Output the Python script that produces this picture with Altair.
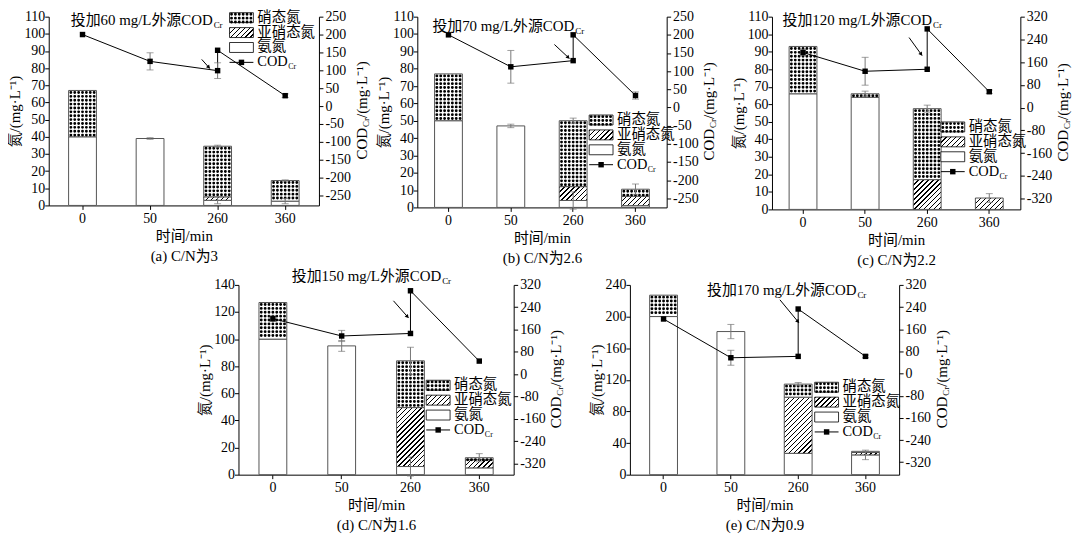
import math
import altair as alt
import pandas as pd

FONT = "Liberation Serif, Noto Sans CJK SC"
TIMES = ["0", "50", "260", "360"]
COD_T = ["0", "50", "260", "260", "360"]   # 260 appears twice: before / after dosing

# ---------------- data ----------------
# (a) C/N = 3
a_ammonia = [40, 39, 3, 2.5]
a_nitrite = [0, 0, 2, 0]
a_nitrate = [27, 0, 29.5, 12]
a_total_err = [0, 0.5, 0.6, 0.4]
a_ammonia_err = [0, 0, 2, 1.5]
a_cod = [200, 125, 99, 156, 29]
a_cod_err = [0, 24, 22, 0, 5]

# (b) C/N = 2.6
b_ammonia = [50, 47, 4, 1]
b_nitrite = [0, 0, 8, 5.5]
b_nitrate = [27, 0, 38, 4]
b_total_err = [0, 1, 1.5, 3]
b_ammonia_err = [0, 0, 5, 0]
b_cod = [200, 112, 129, 200, 33]
b_cod_err = [0, 45, 0, 0, 10]

# (c) C/N = 2.2
c_ammonia = [66, 64, 0, 0]
c_nitrite = [0, 0, 17, 6.5]
c_nitrate = [27, 2, 40.5, 0]
c_total_err = [0, 1.5, 2, 2.5]
c_ammonia_err = [0, 0, 0, 0]
c_cod = [194, 128, 135, 277, 56]
c_cod_err = [10, 49, 0, 0, 6]

# (d) C/N = 1.6
d_ammonia = [100, 95, 6, 5]
d_nitrite = [0, 0, 43.5, 6]
d_nitrate = [27, 0, 34.5, 1.5]
d_total_err = [0, 4, 10, 3]
d_ammonia_err = [0, 0, 7, 0]
d_cod = [199, 137, 146, 299, 47]
d_cod_err = [10, 20, 0, 0, 0]

# (e) C/N = 0.9
e_ammonia = [200, 181, 27, 25]
e_nitrite = [0, 0, 71, 3]
e_nitrate = [27, 0, 16.5, 1.5]
e_total_err = [0, 9, 2, 0]
e_ammonia_err = [0, 0, 0, 6]
e_cod = [197, 57, 62, 233, 62]
e_cod_err = [0, 27, 0, 0, 5]

captions = ["(a) C/N为3", "(b) C/N为2.6", "(c) C/N为2.2", "(d) C/N为1.6", "(e) C/N为0.9"]
doses = ["投加60 mg/L外源COD", "投加70 mg/L外源COD", "投加120 mg/L外源COD",
         "投加150 mg/L外源COD", "投加170 mg/L外源COD"]
legend_labels = ["硝态氮", "亚硝态氮", "氨氮", "COD"]
y_title = "氮/(mg·L⁻¹)"
x_title = "时间/min"

# ---------------- layout / style ----------------
PANELS = [
    dict(w=272, h=190, ymax=110, ystep=10, rdom=[-278, 250], rticks=list(range(-250, 251, 50)),
         leg=(182, 1), note=(165, 3), arrow=(154, 43, 162, 52)),
    dict(w=251, h=192, ymax=110, ystep=10, rdom=[-275, 250], rticks=list(range(-250, 251, 50)),
         leg=(173, 104), note=(158, 9), arrow=(138, 28, 153, 42)),
    dict(w=250, h=194, ymax=110, ystep=10, rdom=[-358, 320], rticks=list(range(-320, 321, 80)),
         leg=(170, 111), note=(161, 3), arrow=(138, 21, 151, 39)),
    dict(w=277, h=191, ymax=140, ystep=20, rdom=[-360, 320], rticks=list(range(-320, 321, 80)),
         leg=(189, 101), note=(204, -9), arrow=(156, 16, 171, 33)),
    dict(w=271, h=191, ymax=240, ystep=40, rdom=[-365, 320], rticks=list(range(-320, 321, 80)),
         leg=(186, 103), note=(228, 5), arrow=(151, 15, 170, 38)),
]
GRAY = "#555555"
ERR = "#777777"
BAR_W = 28
DOT_STEP = 3.9
DOT_D = 2.9
one = pd.DataFrame({"_": [0]})


def hatch(w, h, period=5.0, lw=1.3):
    L = w + h
    stops = []
    pos = 0.0
    while pos < L - 1e-9:
        a = pos / L
        b = min((pos + lw) / L, 1.0)
        c = min((pos + period) / L, 1.0)
        stops += [{"offset": a, "color": "#000000"}, {"offset": b, "color": "#000000"},
                  {"offset": b, "color": "#ffffff"}, {"offset": c, "color": "#ffffff"}]
        pos += period
    k = L / (w * w + h * h)
    return {"gradient": "linear", "x1": 0, "y1": 0, "x2": w * k, "y2": h * k, "stops": stops}


def txt(text, x, y, size=15, align="left", angle=0, baseline="middle"):
    return alt.Chart(one).mark_text(text=text, font=FONT, fontSize=size, align=align,
                                    baseline=baseline, angle=angle, color="black").encode(
        x=alt.value(x), y=alt.value(y))


def build(cfg, amm, nit2, nit3, terr, aerr, cod, coderr, caption, dose):
    w, h, ymax = cfg["w"], cfg["h"], cfg["ymax"]
    rows = []
    for t, a, n2, n3 in zip(TIMES, amm, nit2, nit3):
        rows.append({"t": t, "seg": "amm", "lo": 0, "hi": a})
        rows.append({"t": t, "seg": "nitrite", "lo": a, "hi": a + n2})
        rows.append({"t": t, "seg": "nitrate", "lo": a + n2, "hi": a + n2 + n3})
    seg = pd.DataFrame(rows)
    erows = []
    for t, a, n2, n3, te, ae in zip(TIMES, amm, nit2, nit3, terr, aerr):
        tot = a + n2 + n3
        if te > 0:
            erows.append({"t": t, "elo": tot - te, "ehi": tot + te})
        if ae > 0:
            erows.append({"t": t, "elo": a - ae, "ehi": a + ae})
    err = pd.DataFrame(erows)
    codf = pd.DataFrame({"t": COD_T, "i": list(range(5)), "v": cod,
                         "lo": [v - e for v, e in zip(cod, coderr)],
                         "hi": [v + e for v, e in zip(cod, coderr)], "e": coderr})
    cerr = codf[codf["e"] > 0]

    xscale = alt.Scale(domain=TIMES, paddingInner=0.5, paddingOuter=0.25)
    xaxis = alt.Axis(title=[x_title, caption], labelAngle=0, tickSize=4, labelPadding=2,
                     titlePadding=3, titleLineHeight=20)

    def xb():
        return alt.X("t:N", scale=xscale, axis=xaxis)

    def xc():
        return alt.X("t:N", scale=xscale, axis=xaxis, bandPosition=0.5)

    yscale = alt.Scale(domain=[0, ymax], nice=False)
    yaxis = alt.Axis(values=list(range(0, ymax + 1, cfg["ystep"])), title=y_title,
                     tickSize=4, titlePadding=1, labelPadding=0)

    def yl(f):
        return alt.Y(f"{f}:Q", scale=yscale, axis=yaxis)

    rscale = alt.Scale(domain=cfg["rdom"], nice=False, zero=False)
    raxis = alt.Axis(orient="right", values=cfg["rticks"], title=None, tickSize=4,
                     labelPadding=2, labelExpr="'' + datum.value")

    def yr(f):
        return alt.Y(f"{f}:Q", scale=rscale, axis=raxis)

    left = []
    # ammonia (white)
    left.append(alt.Chart(seg[seg["seg"] == "amm"]).mark_bar(
        width=BAR_W, fill="white", stroke=GRAY, strokeWidth=1).encode(x=xb(), y=yl("lo"), y2="hi"))
    # nitrite (hatched) - one layer per segment, hatch sized to its own box
    nit = seg[(seg["seg"] == "nitrite") & (seg["hi"] > seg["lo"])]
    for _, r in nit.iterrows():
        hpx = max((r["hi"] - r["lo"]) * h / ymax, 1.0)
        left.append(alt.Chart(nit[nit["t"] == r["t"]]).mark_bar(
            width=BAR_W, fill=hatch(BAR_W, hpx), stroke=GRAY, strokeWidth=1).encode(
            x=xb(), y=yl("lo"), y2="hi"))
    # nitrate (dots)
    nat = seg[(seg["seg"] == "nitrate") & (seg["hi"] > seg["lo"])]
    left.append(alt.Chart(nat).mark_bar(width=BAR_W, fill="white", stroke=GRAY, strokeWidth=1).encode(
        x=xb(), y=yl("lo"), y2="hi"))
    for k in range(-3, 4):
        left.append(alt.Chart(nat).mark_rule(
            xOffset=k * DOT_STEP, strokeWidth=DOT_D, strokeDash=[0.01, DOT_STEP - 0.01],
            strokeDashOffset=DOT_STEP - 2.0, strokeCap="round", color="black").encode(
            x=xc(), y=yl("hi"), y2="lo"))
    # error bars
    if len(err):
        left.append(alt.Chart(err).mark_rule(color=ERR, strokeWidth=1).encode(
            x=xc(), y=yl("elo"), y2="ehi"))
        for f in ["elo", "ehi"]:
            left.append(alt.Chart(err).mark_tick(color=ERR, size=7, thickness=1, orient="horizontal").encode(
                x=xc(), y=yl(f)))

    right = [alt.Chart(codf).mark_line(color="black", strokeWidth=1).encode(
        x=xc(), y=yr("v"), order="i:Q")]
    if len(cerr):
        right.append(alt.Chart(cerr).mark_rule(color=ERR, strokeWidth=1).encode(
            x=xc(), y=yr("lo"), y2="hi"))
        for f in ["lo", "hi"]:
            right.append(alt.Chart(cerr).mark_tick(color=ERR, size=7, thickness=1, orient="horizontal").encode(
                x=xc(), y=yr(f)))
    right.append(alt.Chart(codf).mark_square(size=30, color="black", opacity=1).encode(
        x=xc(), y=yr("v")))

    deco = []
    # annotation
    nx, ny = cfg["note"]
    deco.append(txt(dose, nx, ny, size=15, align="right"))
    deco.append(txt("Cr", nx + 1, ny + 5, size=9, align="left"))
    # arrow
    x1, y1, x2, y2 = cfg["arrow"]
    deco.append(alt.Chart(one).mark_rule(color="black", strokeWidth=1).encode(
        x=alt.value(x1), y=alt.value(y1), x2=alt.value(x2), y2=alt.value(y2)))
    dx, dy = x2 - x1, y2 - y1
    ln = math.hypot(dx, dy)
    ang = math.degrees(math.atan2(dx, -dy)) % 360
    deco.append(alt.Chart(one).mark_point(shape="triangle", filled=True, size=18, angle=ang,
                                          color="black", opacity=1).encode(
        x=alt.value(x2 - 2 * dx / ln), y=alt.value(y2 - 2 * dy / ln)))
    # legend
    lx, ly = cfg["leg"]
    DY, SW, SH = 15, 24, 10
    ys = [ly + i * DY for i in range(4)]

    def rect(y, fill):
        return alt.Chart(one).mark_rect(fill=fill, stroke="black", strokeWidth=0.8).encode(
            x=alt.value(lx), x2=alt.value(lx + SW), y=alt.value(y - SH / 2), y2=alt.value(y + SH / 2))

    deco.append(rect(ys[0], "white"))
    for k in range(6):
        deco.append(alt.Chart(one).mark_rule(
            strokeWidth=DOT_D, strokeDash=[0.01, DOT_STEP - 0.01], strokeDashOffset=DOT_STEP - 1.6,
            strokeCap="round", color="black").encode(
            x=alt.value(lx + 2 + k * DOT_STEP), y=alt.value(ys[0] - SH / 2), y2=alt.value(ys[0] + SH / 2)))
    deco.append(rect(ys[1], hatch(SW, SH)))
    deco.append(rect(ys[2], "white"))
    deco.append(alt.Chart(one).mark_rule(color="black", strokeWidth=1).encode(
        x=alt.value(lx), x2=alt.value(lx + SW), y=alt.value(ys[3])))
    deco.append(alt.Chart(one).mark_square(size=30, color="black", opacity=1).encode(
        x=alt.value(lx + SW / 2), y=alt.value(ys[3])))
    for i, lab in enumerate(legend_labels):
        deco.append(txt(lab, lx + SW + 4, ys[i], size=14.5))
    deco.append(txt("Cr", lx + SW + 4 + 31, ys[3] + 5, size=8))
    # right axis title  COD_Cr/(mg·L⁻¹)
    X, Yc = w + 43, h / 2
    deco.append(txt("COD", X, Yc + 17, size=15, align="right", angle=270))
    deco.append(txt("Cr", X + 4, Yc + 16, size=9, align="left", angle=270))
    deco.append(txt("/(mg·L⁻¹)", X, Yc + 7, size=15, align="left", angle=270))

    return alt.layer(alt.layer(*left), alt.layer(*right), *deco).resolve_scale(
        y="independent").properties(width=w, height=h)


pa = build(PANELS[0], a_ammonia, a_nitrite, a_nitrate, a_total_err, a_ammonia_err, a_cod, a_cod_err, captions[0], doses[0])
pb = build(PANELS[1], b_ammonia, b_nitrite, b_nitrate, b_total_err, b_ammonia_err, b_cod, b_cod_err, captions[1], doses[1])
pc = build(PANELS[2], c_ammonia, c_nitrite, c_nitrate, c_total_err, c_ammonia_err, c_cod, c_cod_err, captions[2], doses[2])
pd_ = build(PANELS[3], d_ammonia, d_nitrite, d_nitrate, d_total_err, d_ammonia_err, d_cod, d_cod_err, captions[3], doses[3])
pe = build(PANELS[4], e_ammonia, e_nitrite, e_nitrate, e_total_err, e_ammonia_err, e_cod, e_cod_err, captions[4], doses[4])

spacer = alt.Chart(one).mark_point(opacity=0).properties(width=150, height=1)

top = alt.hconcat(pa, alt.hconcat(pb, pc, spacing=13), spacing=6)
bottom = alt.hconcat(spacer, alt.hconcat(pd_, pe, spacing=24), spacing=0)

chart = alt.vconcat(top, bottom, spacing=2).properties(padding=0).configure_view(
    stroke=None).configure_axis(
    labelFont=FONT, titleFont=FONT, labelFontSize=14, titleFontSize=15, labelColor="black",
    titleColor="black", domainColor="black", tickColor="black", titleFontWeight="normal",
    grid=False, domainWidth=1).configure_text(font=FONT)

chart.save("out.html", embed_options={"renderer": "svg", "actions": False})
